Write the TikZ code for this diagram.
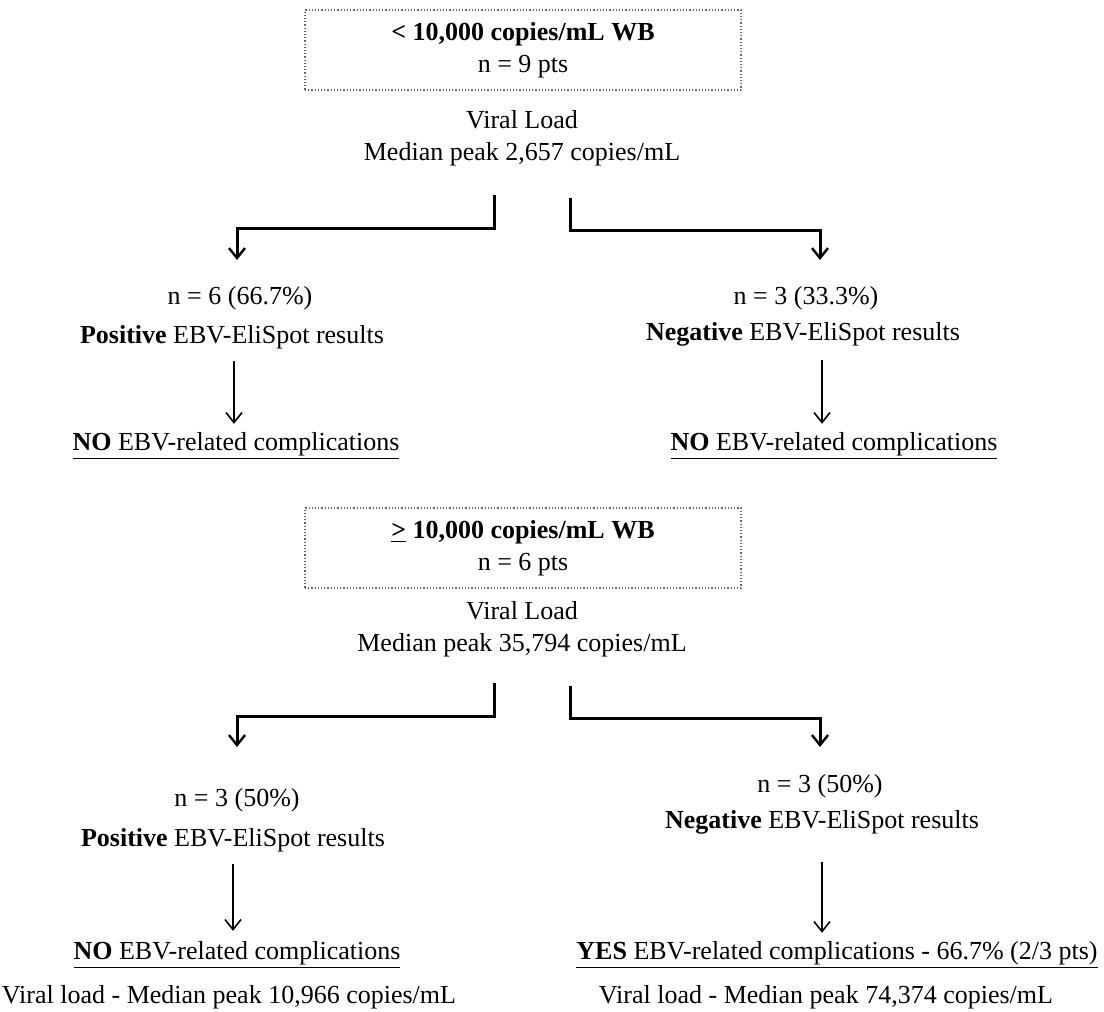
\documentclass[tikz,border=0pt]{standalone}
\usepackage{fontspec}
\setmainfont{Liberation Serif}
\usetikzlibrary{positioning,arrows.meta}

\tikzset{
  txt/.style={align=center,inner sep=0pt,font=\fontsize{13}{16}\selectfont},
  cutoff/.style={txt,draw=black!60,densely dotted,line width=0.6pt,
    minimum width=218pt,minimum height=40pt},
  elbow/.style={line width=1.5pt,-{Straight Barb[length=5pt,width=8pt,line width=1.2pt]}},
  down/.style={line width=0.8pt,-{Straight Barb[length=5pt,width=8pt]}},
}

\begin{document}
\begin{tikzpicture}[x=0.5pt,y=-0.5pt]
  \useasboundingbox (0,0) rectangle (1104,1012);
  % group below 10,000 copies
  \node[cutoff] (lowbox) at (523,50) {\textbf{< 10,000 copies/mL WB}\\n = 9 pts};
  \node[txt] (lowvl) at (522,138) {Viral Load\\Median peak 2,657 copies/mL};
  \coordinate (lowL) at (494,195);
  \coordinate (lowLe) at (237,260);
  \coordinate (lowR) at (570,198);
  \coordinate (lowRe) at (820,260);
  \draw[elbow] (lowL) -- ++(0,33) -| (lowLe);
  \draw[elbow] (lowR) -- ++(0,32) -| (lowRe);
  % positive branch
  \node[txt] (lowposn) at (240,298) {n = 6 (66.7\%)};
  \node[txt] (lowpos) at (232,337) {\textbf{Positive} EBV-EliSpot results};
  \node[txt] (lowposno) at (236,446) {\underline{\textbf{NO} EBV-related complications}};
  \coordinate (lowposx) at (234,0);
  \draw[down,shorten <=6pt,shorten >=4pt] (lowposx |- lowpos.south) -- (lowposx |- lowposno.north);
  % negative branch
  \node[txt] (lownegn) at (806,298) {n = 3 (33.3\%)};
  \node[txt] (lowneg) at (803,334) {\textbf{Negative} EBV-EliSpot results};
  \node[txt] (lownegno) at (834,446) {\underline{\textbf{NO} EBV-related complications}};
  \coordinate (lownegx) at (822,0);
  \draw[down,shorten <=7pt,shorten >=4pt] (lownegx |- lowneg.south) -- (lownegx |- lownegno.north);

  % group at or above 10,000 copies
  \node[cutoff] (highbox) at (523,548) {\textbf{\underline{>} 10,000 copies/mL WB}\\n = 6 pts};
  \node[txt] (highvl) at (522,629) {Viral Load\\Median peak 35,794 copies/mL};
  \coordinate (highL) at (494,683);
  \coordinate (highLe) at (237,747);
  \coordinate (highR) at (570,686);
  \coordinate (highRe) at (820,747);
  \draw[elbow] (highL) -- ++(0,33) -| (highLe);
  \draw[elbow] (highR) -- ++(0,32) -| (highRe);
  % positive branch
  \node[txt] (highposn) at (237,800) {n = 3 (50\%)};
  \node[txt] (highpos) at (233,840) {\textbf{Positive} EBV-EliSpot results};
  \node[txt] (highposno) at (237,955) {\underline{\textbf{NO} EBV-related complications}};
  \node[txt] (highposvl) at (229,997) {Viral load - Median peak 10,966 copies/mL};
  \coordinate (highposx) at (233,0);
  \draw[down,shorten <=6pt,shorten >=5pt] (highposx |- highpos.south) -- (highposx |- highposno.north);
  % negative branch
  \node[txt] (highnegn) at (820,786) {n = 3 (50\%)};
  \node[txt] (highneg) at (822,822) {\textbf{Negative} EBV-EliSpot results};
  \node[txt] (highnegno) at (837,955) {\underline{\textbf{YES} EBV-related complications - 66.7\% (2/3 pts)}};
  \node[txt] (highnegvl) at (826,997) {Viral load - Median peak 74,374 copies/mL};
  \coordinate (highnegx) at (822,0);
  \draw[down,shorten <=14pt,shorten >=4pt] (highnegx |- highneg.south) -- (highnegx |- highnegno.north);
\end{tikzpicture}
\end{document}
